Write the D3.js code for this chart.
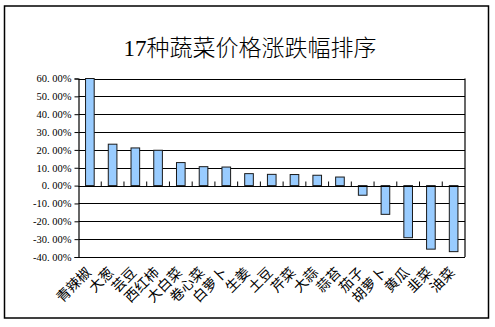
<!DOCTYPE html>
<html><head><meta charset="utf-8">
<script src="https://cdn.jsdelivr.net/npm/d3@7"></script>
<style>body{margin:0;background:#fff}svg{display:block}</style>
</head><body>
<script>
const categories = ["青辣椒","大葱","芸豆","西红柿","大白菜","卷心菜","白萝卜","生姜","土豆","芹菜","大蒜","蒜苔","茄子","胡萝卜","黄瓜","韭菜","油菜"];
const values = [0.60,0.232,0.211,0.198,0.129,0.106,0.104,0.067,0.063,0.062,0.058,0.048,-0.054,-0.161,-0.292,-0.356,-0.370];
const yTicks = [0.6,0.5,0.4,0.3,0.2,0.1,0,-0.1,-0.2,-0.3,-0.4];
const title = "17种蔬菜价格涨跌幅排序";

const W=495,H=327;
const svg=d3.select("body").append("svg").attr("width",W).attr("height",H);
svg.append("rect").attr("x",4.5).attr("y",6).attr("width",484).attr("height",312)
  .attr("fill","#fff").attr("stroke","#000").attr("stroke-width",1.5);

svg.append("text").attr("x",250).attr("y",56).attr("text-anchor","middle")
  .attr("font-family","'Liberation Serif','Noto Sans CJK SC'").attr("font-size",23).attr("font-weight",300).attr("fill","#000")
  .text(title);

const L=78.5,R=465,T=78.5,B=257;
const x=d3.scaleBand().domain(categories).range([L,R]).paddingInner(0.62).paddingOuter(0.31);
const y=d3.scaleLinear().domain([-0.4,0.6]).range([B,T]);

const g=svg.append("g");
g.selectAll("line.grid").data(yTicks).join("line").attr("class","grid")
  .attr("x1",L).attr("x2",R).attr("y1",d=>Math.round(y(d))+0.5).attr("y2",d=>Math.round(y(d))+0.5)
  .attr("stroke","#000").attr("stroke-width",1);
g.append("line").attr("x1",R).attr("x2",R).attr("y1",T).attr("y2",B).attr("stroke","#000").attr("stroke-width",1.2);

const fmt=d=>{const s=(d*100).toFixed(2);const [a,b]=s.split(".");return a+". "+b+"%";};
const yAxis=d3.axisLeft(y).tickValues(yTicks).tickSize(4).tickFormat(fmt);
const ya=svg.append("g").attr("transform",`translate(${L},0)`).call(yAxis);
ya.select(".domain").attr("stroke","#000").attr("stroke-width",1.2);
ya.selectAll(".tick line").attr("stroke","#000");
ya.selectAll(".tick text").attr("font-family","'Liberation Serif','DejaVu Serif'").attr("font-size",10.5).attr("fill","#000").attr("x",-7);

const bw=(R-L)/categories.length;
svg.append("g").selectAll("rect").data(values).join("rect")
  .attr("x",(d,i)=>x(categories[i]))
  .attr("width",x.bandwidth())
  .attr("y",d=>y(Math.max(0,d)))
  .attr("height",d=>Math.abs(y(d)-y(0)))
  .attr("fill","#99ccff").attr("stroke","#1a1a1a").attr("stroke-width",1);

const y0=Math.round(y(0))+0.5;
svg.append("line").attr("x1",L).attr("x2",R).attr("y1",y0).attr("y2",y0).attr("stroke","#000").attr("stroke-width",1.2);
svg.append("g").selectAll("line").data(d3.range(1,categories.length)).join("line")
  .attr("x1",i=>L+i*bw).attr("x2",i=>L+i*bw).attr("y1",y0).attr("y2",y0-5)
  .attr("stroke","#000");

svg.append("g").selectAll("text").data(categories).join("text")
  .attr("transform",d=>`translate(${x(d)+x.bandwidth()/2-1.5},${B+13}) rotate(-45)`)
  .attr("text-anchor","end").attr("dy","0.35em")
  .attr("font-family","'Noto Sans CJK SC'").attr("font-size",14).attr("fill","#000")
  .text(d=>d);
</script>
</body></html>
